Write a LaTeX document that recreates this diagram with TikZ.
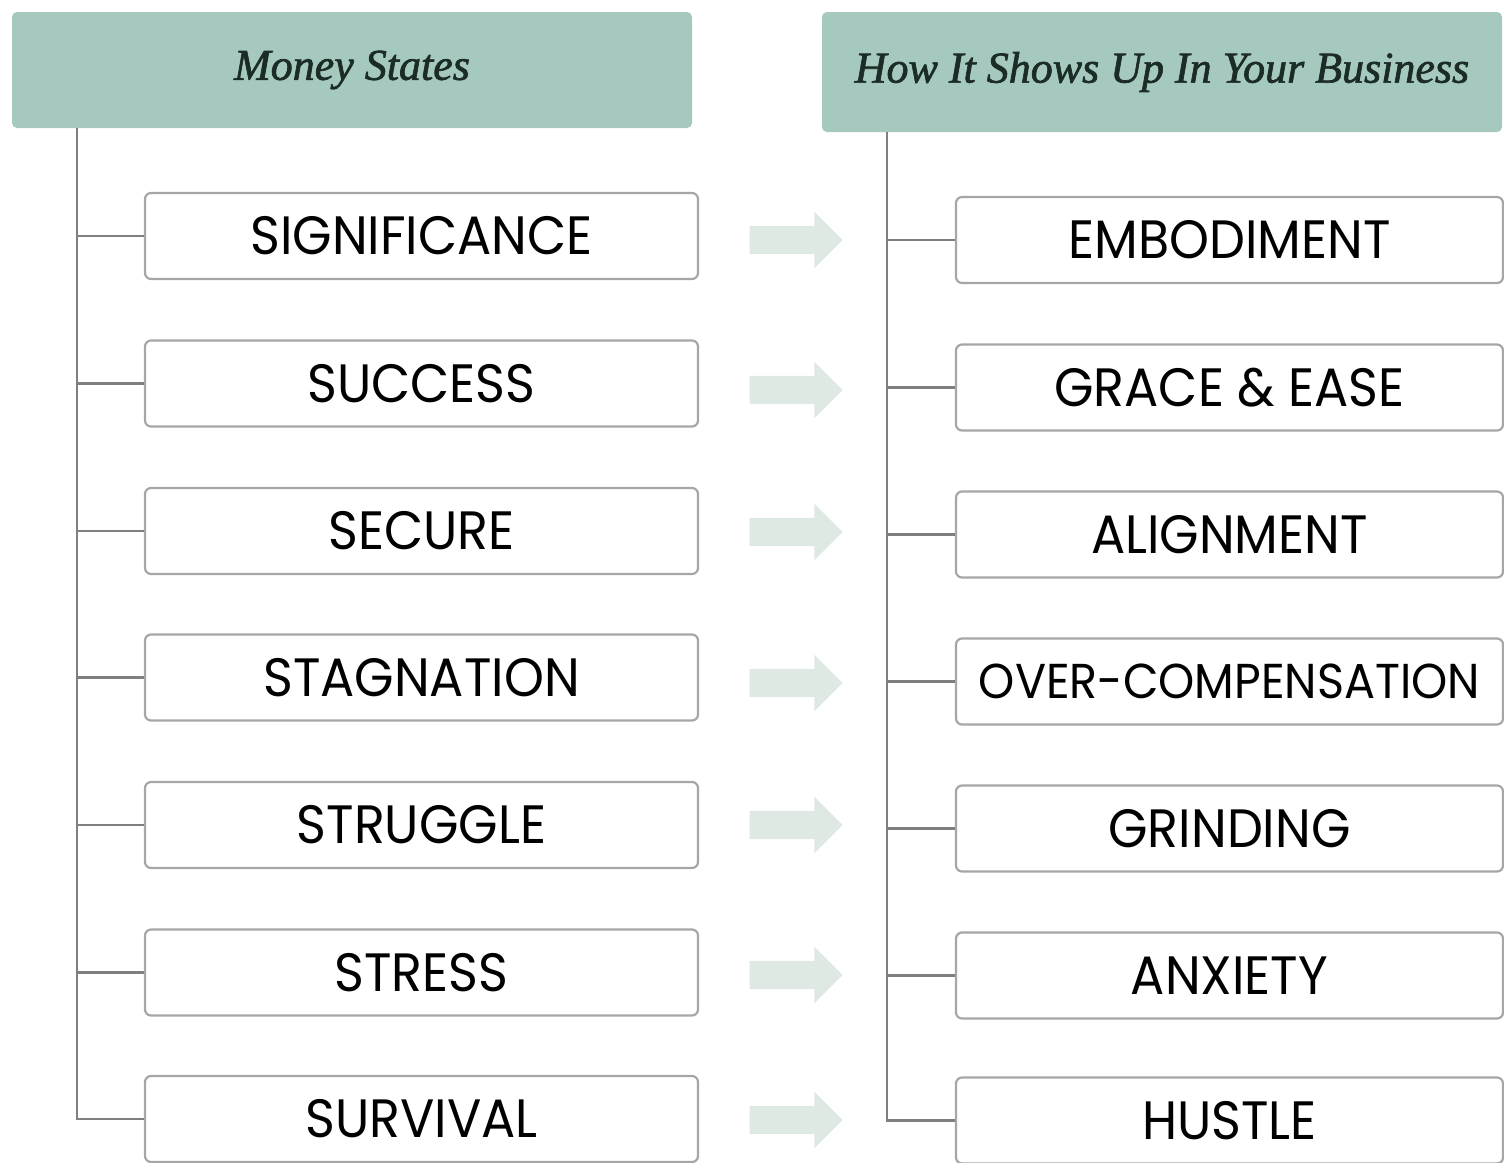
\documentclass[tikz,border=0pt]{standalone}
\usepackage{fontspec}
\setmainfont{Liberation Serif}
\newfontface\headfont{Liberation Serif Italic}[FakeBold=1.5]
\newfontfamily\boxfont{Poppins}[FakeStretch=0.94]
\usetikzlibrary{positioning,shapes.arrows}
\definecolor{headfill}{HTML}{A5C8BF}
\definecolor{headtext}{HTML}{1B2C26}
\definecolor{arrowfill}{HTML}{DDE9E2}
\definecolor{linegray}{HTML}{7F7F7F}
\definecolor{boxgray}{HTML}{A6A6A6}

\begin{document}
\begin{tikzpicture}[x=1pt,y=-1pt,
	header/.style={fill=headfill, rounded corners=5pt, minimum width=680pt, minimum height=116pt, inner sep=0pt, text=headtext, font=\headfont\fontsize{44}{47}\selectfont},
	statebox/.style={draw=boxgray, line width=2.2pt, rounded corners=6pt, fill=white, minimum width=553pt, minimum height=86pt, inner sep=0pt, font=\boxfont\fontsize{54}{58}\selectfont},
	showbox/.style={statebox, minimum width=547pt},
	trunk/.style={draw=linegray, line width=2.6pt},
	flow/.style={single arrow, fill=arrowfill, draw=none, minimum height=93pt, inner xsep=0pt, inner ysep=14pt, single arrow head extend=14pt}]
				\useasboundingbox (0,0) rectangle (1504,1162);
				\node[header] (lhead) at (352, 70) {Money States};
				\node[header, minimum height=120pt] (rhead) at (1162, 72) {How It Shows Up In Your Business};
				\coordinate (ltop) at (77, 128);
				\coordinate (rtop) at (887, 132);
				
				\node[statebox] (s1) at (421.5, 236) {SIGNIFICANCE};
				\node[statebox] (s2) at (421.5, 383.5) {SUCCESS};
				\node[statebox] (s3) at (421.5, 531) {SECURE};
				\node[statebox] (s4) at (421.5, 677.5) {STAGNATION};
				\node[statebox] (s5) at (421.5, 825) {STRUGGLE};
				\node[statebox] (s6) at (421.5, 972.5) {STRESS};
				\node[statebox] (s7) at (421.5, 1119) {SURVIVAL};
				
				\node[showbox] (b1) at (1229.5, 240) {EMBODIMENT};
				\node[showbox] (b2) at (1229.5, 387.5) {GRACE \& EASE};
				\node[showbox] (b3) at (1229.5, 534.5) {ALIGNMENT};
				\node[showbox, font=\boxfont\fontsize{49}{53}\selectfont] (b4) at (1229.5, 681.5) {OVER-COMPENSATION};
				\node[showbox] (b5) at (1229.5, 828.5) {GRINDING};
				\node[showbox] (b6) at (1229.5, 975.5) {ANXIETY};
				\node[showbox] (b7) at (1229.5, 1120.5) {HUSTLE};
				
				\node[flow] (f1) at (789, 240) {};
				\node[flow] (f2) at (789, 390) {};
				\node[flow] (f3) at (789, 532) {};
				\node[flow] (f4) at (789, 683) {};
				\node[flow] (f5) at (789, 825) {};
				\node[flow] (f6) at (789, 975) {};
				\node[flow] (f7) at (789, 1120) {};
				
				\draw[trunk] (ltop) |- (s7.west);
				\draw[trunk] (rtop) |- (b7.west);
				\foreach \i in {1,...,6} {
					\draw[trunk] (s\i.west -| ltop) -- (s\i.west);
					\draw[trunk] (b\i.west -| rtop) -- (b\i.west);
				}
\end{tikzpicture}
\end{document}
